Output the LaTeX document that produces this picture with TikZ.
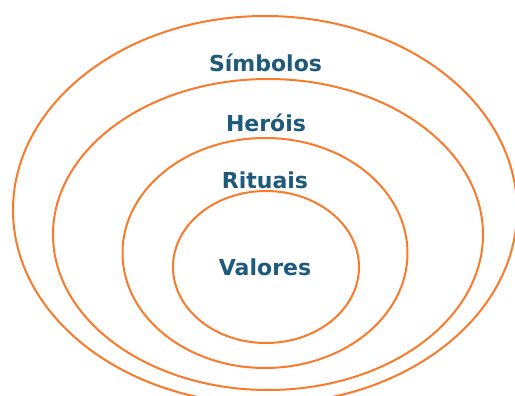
\documentclass[tikz,border=0pt]{standalone}
\usepackage{fontspec}
\setmainfont{DejaVu Sans}
\definecolor{ringorange}{HTML}{FA7A2C}
\definecolor{labelblue}{HTML}{1E5A7C}
\begin{document}
\begin{tikzpicture}[x=1pt,y=-1pt,
  ring/.style={draw=ringorange,line width=2pt},
  layerlabel/.style={anchor=base,inner sep=0pt,text=labelblue,font=\fontsize{22}{26}\selectfont\bfseries}]
\useasboundingbox (0,0) rectangle (515,396);
\clip (0,0) rectangle (515,396);
\fill[white] (0,0) rectangle (515,396);
\draw[ring] (265,210) ellipse [x radius=252pt, y radius=194pt];
\draw[ring] (268,234.5) ellipse [x radius=215pt, y radius=155.5pt];
\draw[ring] (265,253) ellipse [x radius=142.5pt, y radius=115pt];
\draw[ring] (266,267) ellipse [x radius=93pt, y radius=76pt];
\node[layerlabel] (simbolos) at (265.5,71.7) {Símbolos};
\node[layerlabel] (herois) at (266,131.7) {Heróis};
\node[layerlabel] (rituais) at (265,189) {Rituais};
\node[layerlabel] (valores) at (265,276) {Valores};
\end{tikzpicture}
\end{document}
